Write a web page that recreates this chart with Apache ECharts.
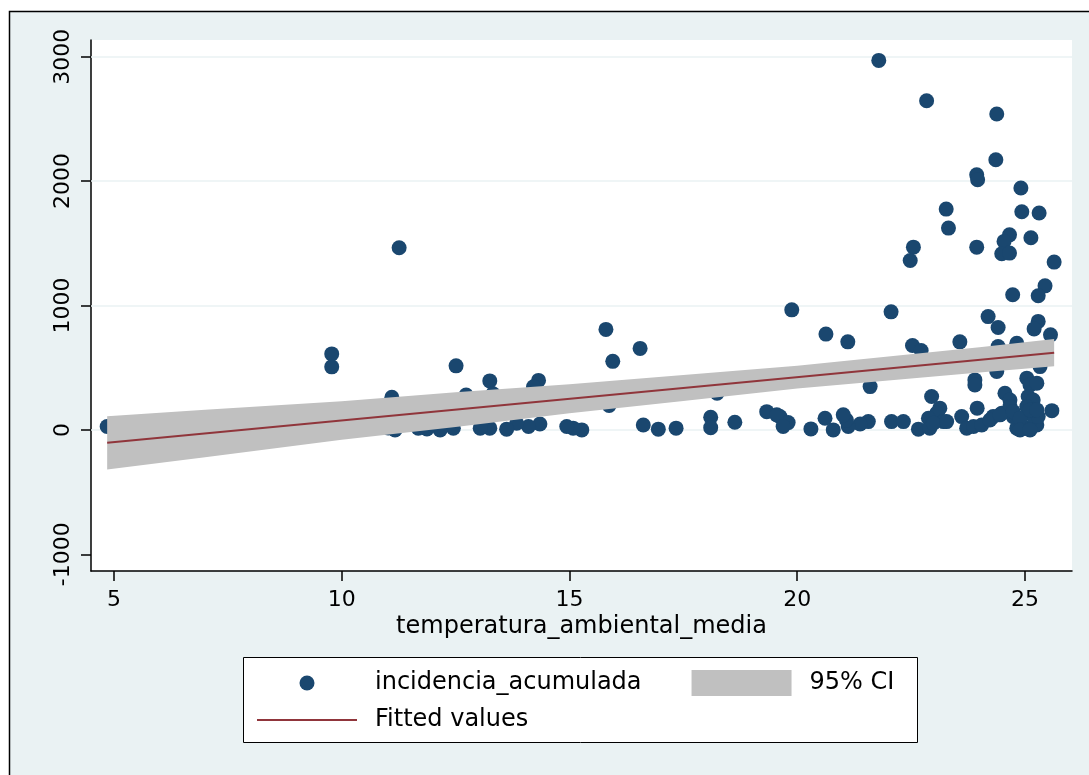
<!DOCTYPE html>
<html>
<head>
<meta charset="utf-8">
<script src="https://cdn.jsdelivr.net/npm/echarts@6/dist/echarts.min.js"></script>
<style>
  html, body { margin: 0; padding: 0; background: #fff; }
  #chart { width: 1089px; height: 775px; }
</style>
</head>
<body>
<div id="chart"></div>
<script>
// Observed data: mean ambient temperature vs cumulative incidence
const temperature = [
  21.79, 22.84, 24.38, 24.36, 23.94, 23.96, 24.91, 23.27, 24.93, 25.31,
  23.32, 22.55, 22.48, 23.94, 24.66, 24.54, 24.49, 24.66, 25.13, 25.64,
  25.44, 25.29, 24.73, 22.06, 24.19, 25.29, 25.20, 19.88, 20.63, 21.11,
  24.41, 25.56, 22.53, 22.72, 23.57, 24.41, 24.82, 21.60, 23.90, 23.90,
  24.38, 25.04, 25.11, 25.26, 25.33, 22.95, 23.95, 24.56, 24.67, 25.07,
  25.18, 25.59, 23.13, 23.06, 22.88, 23.21, 23.61, 23.72, 23.87, 24.05,
  24.30, 24.49, 24.67, 24.82, 25.04, 25.26, 24.74, 25.18, 25.29, 25.04,
  25.18, 22.66, 22.91, 22.07, 22.33, 21.56, 21.38, 21.12, 21.08, 21.01,
  20.79, 20.61, 20.30, 19.62, 19.80, 19.33, 19.55, 19.69, 18.63, 18.10,
  18.10, 18.24, 17.34, 16.95, 16.62, 16.55, 15.80, 15.95, 15.87, 15.27,
  15.08, 14.94, 14.35, 14.32, 14.21, 14.10, 13.84, 13.62, 13.25, 13.04,
  13.25, 13.32, 12.73, 12.51, 12.45, 12.16, 11.87, 11.68, 11.17, 11.02,
  11.10, 11.26, 9.78, 9.78, 4.85, 24.23, 24.45, 24.74, 24.89, 24.89,
  25.11, 22.99, 23.28, 25.11, 25.26
];
const incidence = [
  2970, 2646, 2539, 2172, 2051, 2011, 1944, 1775, 1753, 1743,
  1622, 1469, 1362, 1469, 1568, 1515, 1416, 1421, 1544, 1349,
  1158, 1078, 1086, 949, 911, 872, 812, 965, 770, 708,
  823, 764, 678, 638, 708, 670, 697, 348, 402, 362,
  469, 416, 362, 376, 509, 268, 175, 295, 241, 268,
  241, 155, 175, 134, 94, 67, 107, 14, 27, 40,
  107, 134, 187, 14, 14, 40, 107, 107, 107, 187,
  161, 6, 14, 67, 67, 67, 48, 27, 80, 121,
  0, 94, 8, 107, 59, 147, 121, 27, 62, 102,
  18, 295, 14, 6, 40, 655, 808, 551, 197, 0,
  14, 27, 48, 398, 346, 27, 54, 6, 14, 14,
  394, 290, 281, 515, 14, 0, 8, 14, 0, 16,
  263, 1464, 611, 507, 27, 80, 121, 147, 94, 0,
  0, 54, 67, 161, 161
];

// Linear fit and its 95% confidence band
const fitX = [4.85, 25.64];
const fitY = [-103, 620];
const ciX    = [4.85, 7, 10, 12.5, 15, 17.5, 20, 22, 24, 25.64];
const ciLow  = [-318, -219, -79, 24, 133, 233, 332, 398, 462, 511];
const ciHigh = [110, 163, 231, 302, 367, 441, 516, 590, 665, 730];

// Axis ticks
const xTicks = [5, 10, 15, 20, 25];
const yTicks = [-1000, 0, 1000, 2000, 3000];
const yGrid = [0, 1000, 2000, 3000];

const FONT = 'DejaVu Sans';
const NAVY = '#1a476f';
const MAROON = '#90353b';
const CI_GRAY = '#c0c0c0';
const BG = '#eaf2f3';

const chart = echarts.init(document.getElementById('chart'), null, { renderer: 'canvas' });

const option = {
  animation: false,
  backgroundColor: BG,
  textStyle: { fontFamily: FONT },
  grid: {
    left: 91, right: 17, top: 40, bottom: 204,
    show: true, backgroundColor: '#fff', borderWidth: 0,
    containLabel: false, outerBoundsMode: 'none'
  },
  xAxis: {
    type: 'value',
    min: 4.495, max: 26.032,
    name: 'temperatura_ambiental_media',
    nameLocation: 'middle',
    nameGap: 44,
    nameMoveOverlap: false,
    nameTextStyle: { fontFamily: FONT, fontSize: 24, color: '#000' },
    axisLine: { show: true, onZero: false, lineStyle: { color: '#000', width: 1.5 } },
    axisTick: { show: true, length: 10, customValues: xTicks, lineStyle: { color: '#000', width: 1.5 } },
    axisLabel: { customValues: xTicks, margin: 18, color: '#000', fontFamily: FONT, fontSize: 22,
                 formatter: v => String(v) },
    splitLine: { show: false }
  },
  yAxis: {
    type: 'value',
    min: -1134, max: 3134,
    axisLine: { show: true, onZero: false, lineStyle: { color: '#000', width: 1.5 } },
    axisTick: { show: true, length: 10, customValues: yTicks, lineStyle: { color: '#000', width: 1.5 } },
    axisLabel: { customValues: yTicks, rotate: 90, margin: 17, color: '#000', fontFamily: FONT, fontSize: 22,
                 formatter: v => String(v) },
    splitLine: { show: false }
  },
  legend: [
    {
      left: 257, top: 670, padding: 0,
      itemWidth: 100, itemHeight: 26, itemGap: 50,
      selectedMode: false,
      textStyle: { fontFamily: FONT, fontSize: 24, color: '#000', padding: [0, 0, 0, 13] },
      data: [
        { name: 'incidencia_acumulada',
          icon: 'path://M0,0M100,26M57.5,13A7.5,7.5,0,1,1,42.5,13A7.5,7.5,0,1,1,57.5,13Z' },
        { name: '95% CI', icon: 'rect' }
      ]
    },
    {
      left: 257, top: 707, padding: 0,
      itemWidth: 100, itemHeight: 26,
      selectedMode: false,
      itemStyle: { borderWidth: 0 },
      textStyle: { fontFamily: FONT, fontSize: 24, color: '#000', padding: [0, 0, 0, 13] },
      data: [
        { name: 'Fitted values', icon: 'path://M0,0M100,26M0,12H100V14H0Z' }
      ]
    }
  ],
  graphic: [
    { type: 'rect', silent: true, shape: { x: 0, y: 0, width: 1089, height: 11 }, style: { fill: '#fff' } },
    { type: 'rect', silent: true, shape: { x: 0, y: 0, width: 9, height: 775 }, style: { fill: '#fff' } },
    { type: 'polyline', silent: true, shape: { points: [[9.5, 775], [9.5, 11.5], [1089, 11.5]] },
      style: { stroke: '#000', lineWidth: 1.5, fill: null } },
    { type: 'rect', silent: true, shape: { x: 243.5, y: 657.5, width: 674, height: 85 },
      style: { fill: '#fff', stroke: '#000', lineWidth: 1 } }
  ],
  series: [
    {
      name: 'incidencia_acumulada',
      type: 'scatter',
      z: 2,
      symbol: 'circle',
      symbolSize: 15,
      itemStyle: { color: NAVY, opacity: 1 },
      emphasis: { disabled: true },
      data: temperature.map((t, i) => [t, incidence[i]]),
      markLine: {
        silent: true,
        z: 1,
        symbol: ['none', 'none'],
        label: { show: false },
        emphasis: { disabled: true },
        lineStyle: { color: BG, width: 1.7, type: 'solid' },
        data: yGrid.map(v => ({ yAxis: v }))
      }
    },
    {
      name: '95% CI',
      type: 'custom',
      z: 3,
      itemStyle: { color: CI_GRAY },
      data: ciX.map((x, i) => [x, ciLow[i], ciHigh[i]]),
      encode: { x: 0, y: [1, 2] },
      renderItem: function (params, api) {
        if (params.dataIndex !== 0) return null;
        const pts = [];
        for (let i = 0; i < ciX.length; i++) pts.push(api.coord([ciX[i], ciHigh[i]]));
        for (let i = ciX.length - 1; i >= 0; i--) pts.push(api.coord([ciX[i], ciLow[i]]));
        return { type: 'polygon', shape: { points: pts }, style: { fill: CI_GRAY } };
      }
    },
    {
      name: 'Fitted values',
      type: 'line',
      z: 4,
      symbol: 'none',
      itemStyle: { color: MAROON },
      lineStyle: { color: MAROON, width: 2 },
      emphasis: { disabled: true },
      data: fitX.map((x, i) => [x, fitY[i]])
    }
  ]
};

chart.setOption(option);
</script>
</body>
</html>
